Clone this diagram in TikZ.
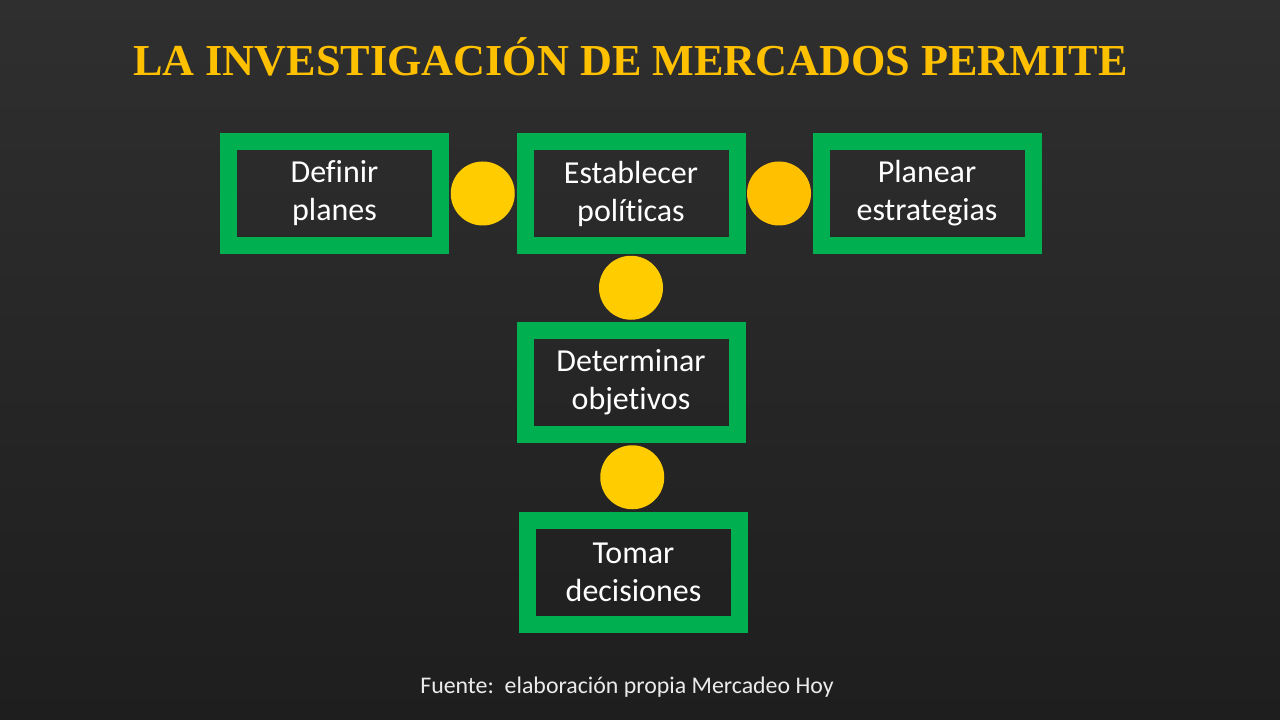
\documentclass[tikz,border=0pt]{standalone}
\usepackage{fontspec}
\setmainfont{Carlito}[Ligatures=NoCommon]
\newfontfamily\titlefont{Liberation Serif}
\usepackage{xcolor}
\usepackage{tikz}
\usetikzlibrary{calc,positioning}
\definecolor{bgTop}{HTML}{2F2F2F}
\definecolor{bgBot}{HTML}{1E1E1E}
\definecolor{titleGold}{HTML}{FFC000}
\definecolor{boxGreen}{HTML}{00B050}
\definecolor{dotYellow}{HTML}{FFCC00}
\definecolor{dotAmber}{HTML}{FFC000}
\tikzset{
  actbox/.style={
    rectangle, draw=boxGreen, line width=12.75pt,
    minimum width=159pt, minimum height=78pt,
    align=center, text=white,
    font=\fontsize{24pt}{28.5pt}\selectfont,
    inner sep=0pt
  },
  dot/.style={circle, fill=dotYellow, minimum size=48pt, inner sep=0pt},
  dotalt/.style={dot, fill=dotAmber}
}
\begin{document}
\begin{tikzpicture}[x=0.75pt,y=-0.75pt]
  % background
  \shade[top color=bgTop, bottom color=bgBot] (0,0) rectangle (1280,720);
  \useasboundingbox (0,0) rectangle (1280,720);

  % title
  \node[text=titleGold, inner sep=0pt] (title) at (630.5,57)
    {\resizebox{746pt}{!}{\titlefont\bfseries\fontsize{34pt}{40pt}\selectfont LA INVESTIGACIÓN DE MERCADOS PERMITE}};

  % boxes
  \node[actbox] (definir)     at (334.5,193.5) {Definir\\planes};
  \node[actbox] (establecer)  at (631,193.5)   {Establecer\\políticas};
  \node[actbox] (planear)     at (927,193.5)   {Planear\\estrategias};
  \node[actbox] (determinar)  at (631,382)     {Determinar\\objetivos};
  \node[actbox] (tomar)       at (633.5,572.5) {Tomar\\decisiones};

  % dots between boxes
  \node[dot]    (d1) at ($(definir.east)!0.5!(establecer.west)$) {};
  \node[dotalt] (d2) at ($(establecer.east)!0.5!(planear.west)$) {};
  \node[dot]    (d3) at ($(establecer.south)!0.5!(determinar.north)$) {};
  \node[dot]    (d4) at ($(determinar.south)!0.5!(tomar.north)$) {};

  % source
  \node[text=white!92!black, inner sep=0pt] (fuente) at (627,687)
    {\resizebox{310pt}{!}{\fontsize{16pt}{18pt}\selectfont Fuente:\ \ elaboración propia Mercadeo Hoy}};
\end{tikzpicture}
\end{document}
